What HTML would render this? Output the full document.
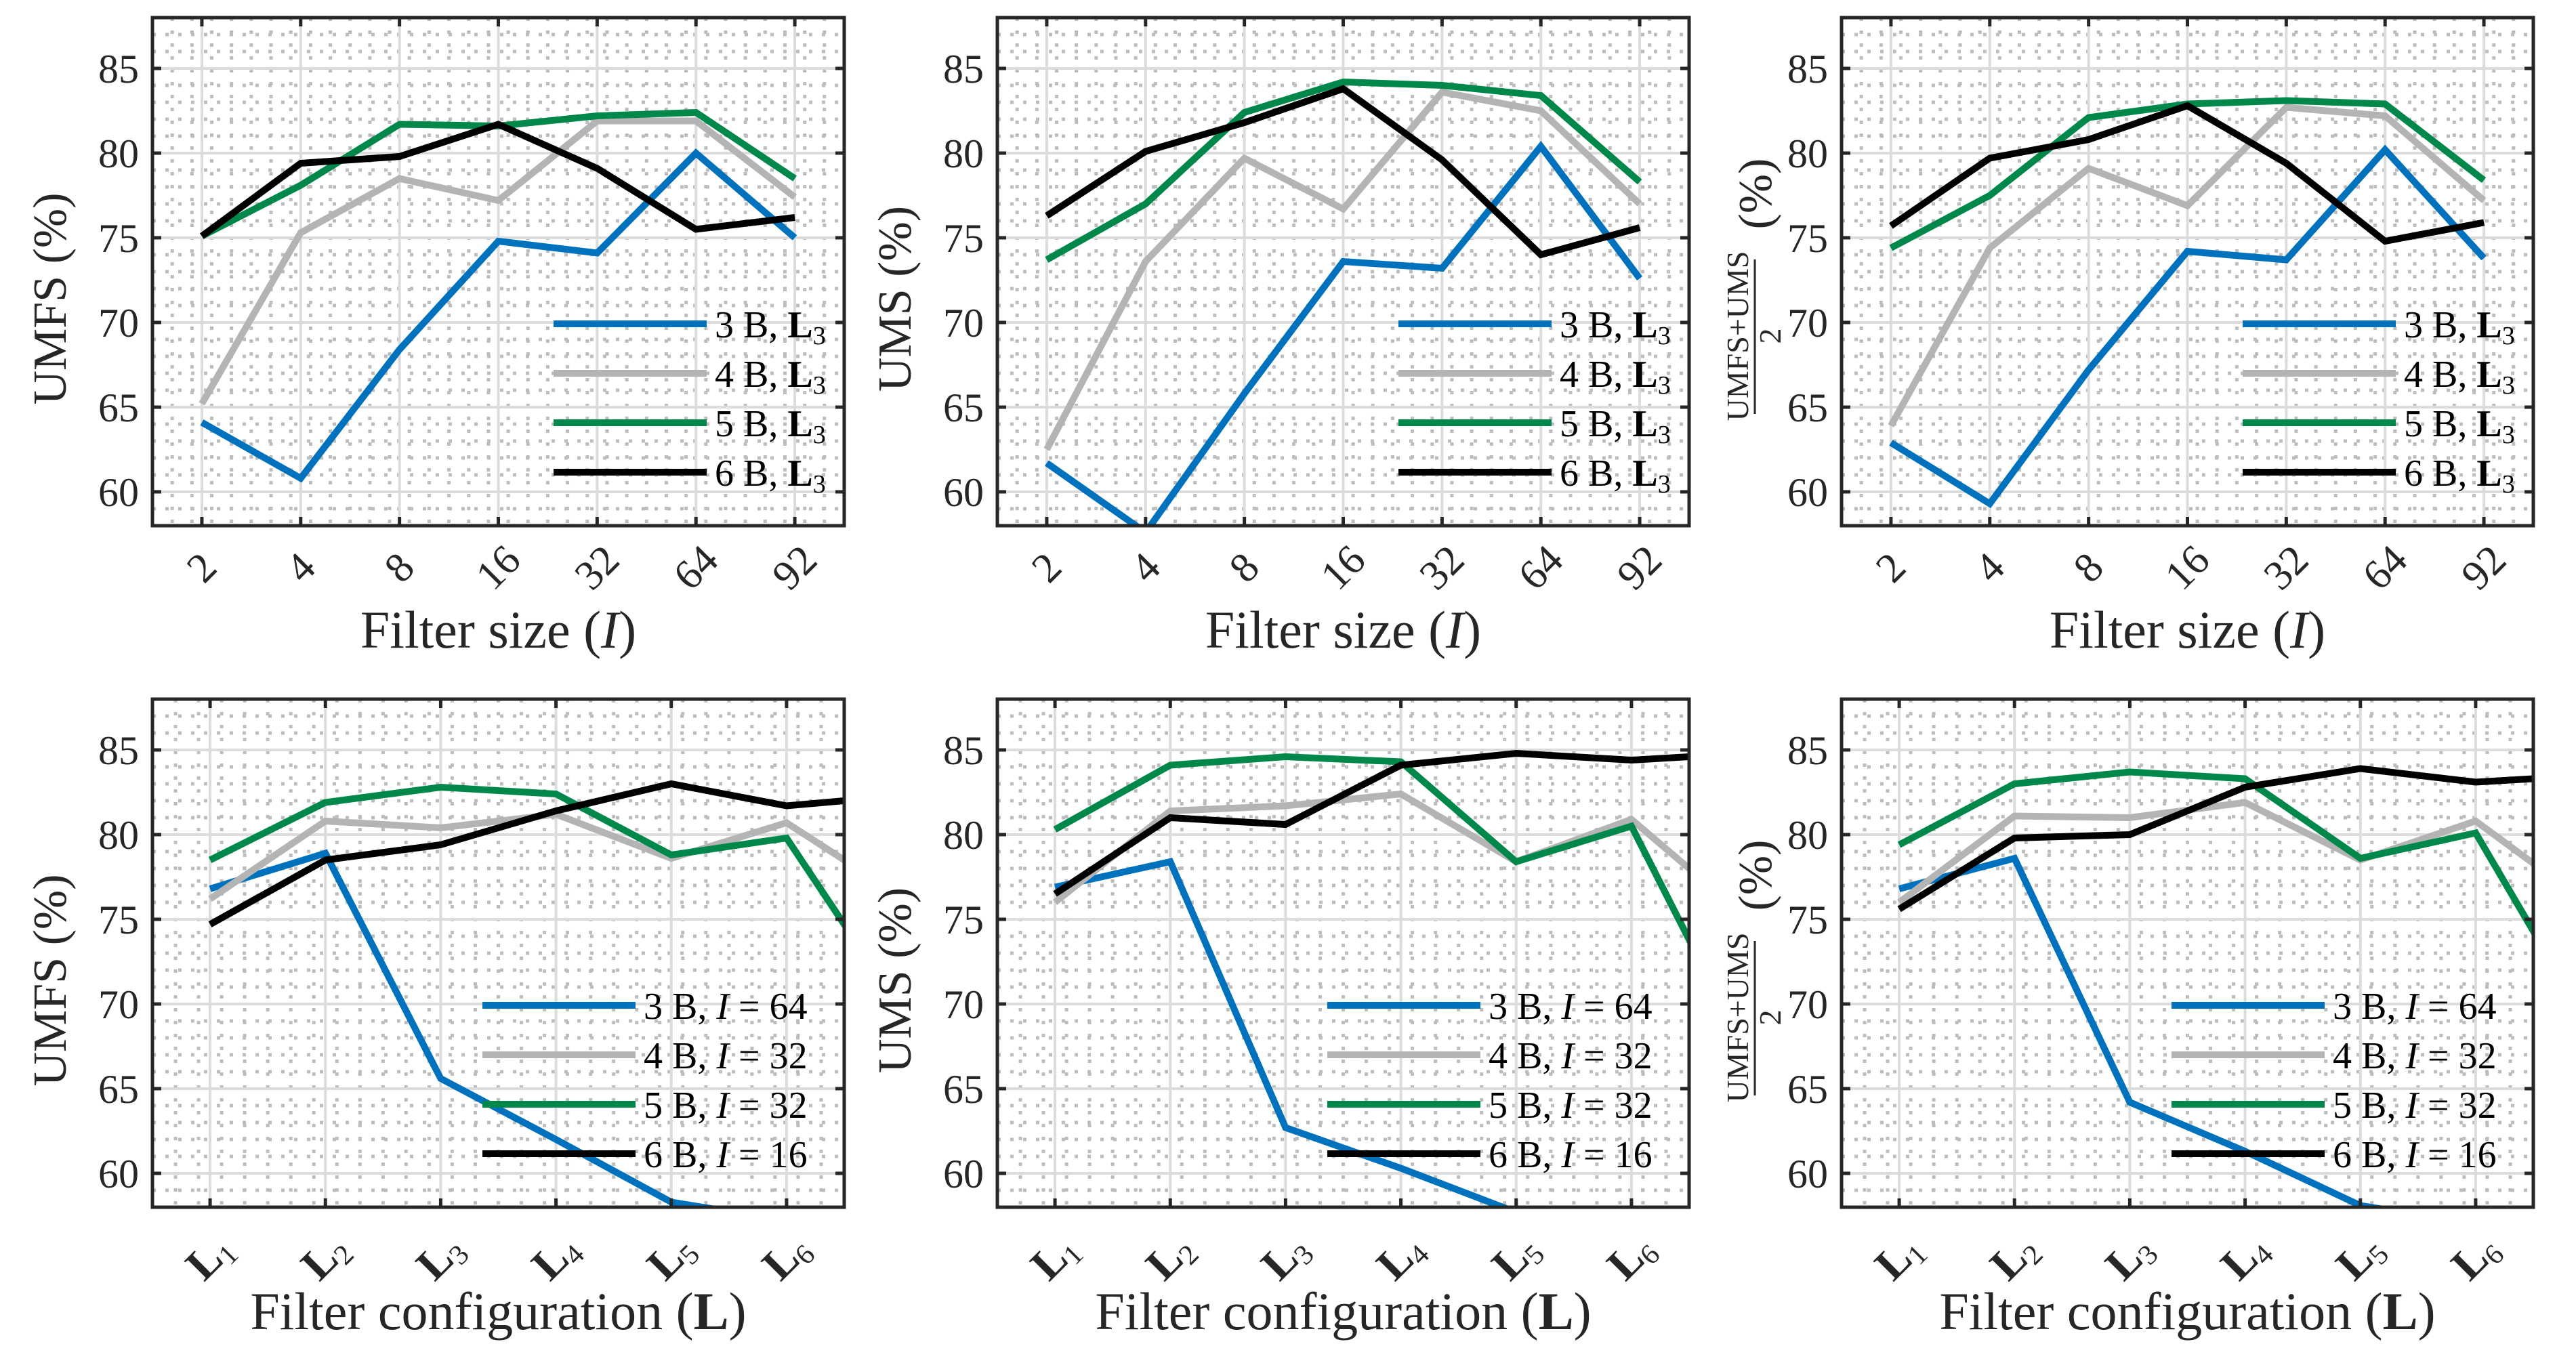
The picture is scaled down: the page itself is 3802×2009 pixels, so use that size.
<!DOCTYPE html>
<html><head><meta charset="utf-8"><style>
html,body{margin:0;padding:0;background:#fff;}
svg{display:block;font-family:"Liberation Serif",serif;}
</style></head><body>
<svg id="fig" width="3802" height="2009" viewBox="0 0 3802 2009" xmlns="http://www.w3.org/2000/svg"></svg>
<script>
// ---- data ----
const sizeCats = ['2','4','8','16','32','64','92'];
const confCats = ['1','2','3','4','5','6'];
const seriesNames = ['3 B','4 B','5 B','6 B'];
const yTicks = [60,65,70,75,80,85];
// top row (filter size), order: blue, gray, green, black
const umfsSize3 = [64.1,60.8,68.4,74.8,74.1,80.0,75.0];
const umfsSize4 = [65.2,75.3,78.5,77.2,81.9,81.9,77.4];
const umfsSize5 = [75.1,78.1,81.7,81.6,82.2,82.4,78.5];
const umfsSize6 = [75.1,79.4,79.8,81.7,79.1,75.5,76.2];
const umsSize3 = [61.7,57.6,65.8,73.6,73.2,80.4,72.6];
const umsSize4 = [62.5,73.6,79.7,76.7,83.6,82.5,77.0];
const umsSize5 = [73.7,77.0,82.4,84.2,84.0,83.4,78.3];
const umsSize6 = [76.3,80.1,81.8,83.8,79.6,74.0,75.6];
const avgSize3 = [62.9,59.3,67.2,74.2,73.7,80.2,73.8];
const avgSize4 = [63.9,74.4,79.1,76.9,82.7,82.2,77.2];
const avgSize5 = [74.4,77.5,82.1,82.9,83.1,82.9,78.4];
const avgSize6 = [75.7,79.7,80.8,82.8,79.4,74.8,75.9];
// bottom row (filter configuration); 7th value lies beyond the axis (clipped)
const umfsConf3 = [76.8,78.9,65.6,62.0,58.3,57.2];
const umfsConf4 = [76.2,80.8,80.4,81.2,78.6,80.7,76.3];
const umfsConf5 = [78.5,81.9,82.8,82.4,78.8,79.8,69.6];
const umfsConf6 = [74.7,78.5,79.4,81.4,83.0,81.7,82.3];
const umsConf3 = [76.9,78.4,62.7,60.3,57.7,56.5];
const umsConf4 = [76.0,81.4,81.7,82.4,78.4,80.9,75.1];
const umsConf5 = [80.3,84.1,84.6,84.3,78.4,80.5,67.1];
const umsConf6 = [76.5,81.0,80.6,84.1,84.8,84.4,84.8];
const avgConf3 = [76.8,78.6,64.2,61.3,58.1,57.0];
const avgConf4 = [76.0,81.1,81.0,81.9,78.5,80.8,75.8];
const avgConf5 = [79.4,83.0,83.7,83.3,78.6,80.1,68.5];
const avgConf6 = [75.6,79.8,80.0,82.8,83.9,83.1,83.5];
const confParams = ['64','32','32','16'];

// ---- layout ----
const NS='http://www.w3.org/2000/svg';
const svg=document.getElementById('fig');
const colors=['#0072BD','#B4B4B4','#00874A','#000000'];
const lefts=[225,1472,2718], tops=[26,1032], W=1021, H=750;
const yMin=58, yMax=88;
function mk(tag,attrs,parent){const e=document.createElementNS(NS,tag);for(const k in attrs)e.setAttribute(k,attrs[k]);(parent||svg).appendChild(e);return e;}

const panels=[
 {row:0,col:0,cats:sizeCats,data:[umfsSize3,umfsSize4,umfsSize5,umfsSize6],ylab:'UMFS'},
 {row:0,col:1,cats:sizeCats,data:[umsSize3,umsSize4,umsSize5,umsSize6],ylab:'UMS'},
 {row:0,col:2,cats:sizeCats,data:[avgSize3,avgSize4,avgSize5,avgSize6],ylab:'AVG'},
 {row:1,col:0,cats:confCats,data:[umfsConf3,umfsConf4,umfsConf5,umfsConf6],ylab:'UMFS'},
 {row:1,col:1,cats:confCats,data:[umsConf3,umsConf4,umsConf5,umsConf6],ylab:'UMS'},
 {row:1,col:2,cats:confCats,data:[avgConf3,avgConf4,avgConf5,avgConf6],ylab:'AVG'}
];

panels.forEach((p,pi)=>{
  const L=lefts[p.col], T=tops[p.row], n=p.cats.length;
  const step=W/n;
  const xs=i=>L+step*(i+0.5);
  const ys=v=>T+H*(yMax-v)/(yMax-yMin);
  const g=mk('g',{});
  
  
  mk('rect',{x:L,y:T,width:W,height:H,fill:'#fff'},g);
  // minor grid
  for(let v=yMin+1;v<yMax;v++){ if(v%5===0) continue;
    const l=mk('line',{x1:L,x2:L+W,y1:ys(v),y2:ys(v),stroke:'#bdbdbd','stroke-width':5,'stroke-dasharray':'5 14'},g);
    
    
  }
  for(let k=0;k<n*5;k++){ const xv=L+step*k/5;
    if(Math.abs(k/5-Math.floor(k/5)-0.5)<1e-6) continue;
    const l=mk('line',{x1:xv,x2:xv,y1:T,y2:T+H,stroke:'#bdbdbd','stroke-width':5,'stroke-dasharray':'5 14'},g);
    
    
  }
  // major grid
  yTicks.forEach(v=>{const l=mk('line',{x1:L,x2:L+W,y1:ys(v),y2:ys(v),stroke:'#dcdcdc','stroke-width':4},g);
    
    });
  p.cats.forEach((c,i)=>{const l=mk('line',{x1:xs(i),x2:xs(i),y1:T,y2:T+H,stroke:'#dcdcdc','stroke-width':4},g);
    
    });
  // clip
  const cp=mk('clipPath',{id:'clip'+pi},g); mk('rect',{x:L,y:T,width:W,height:H},cp);
  // series
  p.data.forEach((arr,si)=>{
    const pts=arr.map((v,i)=>xs(i).toFixed(1)+','+ys(v).toFixed(1)).join(' ');
    const pl=mk('polyline',{points:pts,fill:'none',stroke:colors[si],'stroke-width':10,'stroke-linejoin':'miter','clip-path':'url(#clip'+pi+')'},g);
    
    
  });
  // ticks + frame
  yTicks.forEach(v=>{
    mk('line',{x1:L,x2:L+13,y1:ys(v),y2:ys(v),stroke:'#262626','stroke-width':5},g);
    mk('line',{x1:L+W-13,x2:L+W,y1:ys(v),y2:ys(v),stroke:'#262626','stroke-width':5},g);
    const t=mk('text',{x:L-20,y:ys(v)+21,'text-anchor':'end','font-size':60,fill:'#262626'},g);
    t.textContent=v;
    
    
  });
  p.cats.forEach((c,i)=>{
    mk('line',{x1:xs(i),x2:xs(i),y1:T,y2:T+13,stroke:'#262626','stroke-width':5},g);
    mk('line',{x1:xs(i),x2:xs(i),y1:T+H-13,y2:T+H,stroke:'#262626','stroke-width':5},g);
    const cx=xs(i), cy=T+H+(p.row===0?62:74);
    const t=mk('text',{x:cx,y:cy+20,'text-anchor':'middle','font-size':62,fill:'#262626',transform:'rotate(-45 '+cx+' '+cy+')'},g);
    
    
    if(p.row===0){t.textContent=c;}
    else{const a=mk('tspan',{'font-weight':'bold','font-size':66},t);a.textContent='L';const b=mk('tspan',{'font-size':42,dy:10},t);b.textContent=c;}
  });
  const fr=mk('rect',{x:L,y:T,width:W,height:H,fill:'none',stroke:'#262626','stroke-width':5},g);
  
  
  // legend
  seriesNames.forEach((s,si)=>{
    const ly=T+452+si*73;
    const x1=p.row===0?L+592:L+487, x2=p.row===0?L+818:L+713;
    const ll=mk('line',{x1:x1,x2:x2,y1:ly,y2:ly,stroke:colors[si],'stroke-width':10},g);
    
    
    const t=mk('text',{x:x2+12,y:ly+20,'font-size':56,fill:'#000'},g);
    
    
    const a=mk('tspan',{},t);a.textContent=s+', ';
    if(p.row===0){const b=mk('tspan',{'font-weight':'bold'},t);b.textContent='L';const c=mk('tspan',{'font-size':38,dy:10},t);c.textContent='3';}
    else{const b=mk('tspan',{'font-style':'italic'},t);b.textContent='I';const c=mk('tspan',{},t);c.textContent=' = '+confParams[si];}
  });
  // x label
  const xl=mk('text',{x:L+W/2,y:p.row===0?956:1962,'text-anchor':'middle','font-size':78,fill:'#262626'},g);
  
  
  if(p.row===0){const a=mk('tspan',{},xl);a.textContent='Filter size (';const b=mk('tspan',{'font-style':'italic'},xl);b.textContent='I';const c=mk('tspan',{},xl);c.textContent=')';}
  else{const a=mk('tspan',{},xl);a.textContent='Filter configuration (';const b=mk('tspan',{'font-weight':'bold'},xl);b.textContent='L';const c=mk('tspan',{},xl);c.textContent=')';}
  // y label
  const cy=T+H/2+40;
  if(p.ylab!=='AVG'){
    const cx=L-128;
    const yl=mk('text',{x:cx,y:cy,'text-anchor':'middle','font-size':70,fill:'#262626',transform:'rotate(-90 '+cx+' '+cy+')'},g);
    yl.textContent=p.ylab+' (%)';
    
    
  } else {
    const cx=L-128;
    const yg=mk('g',{transform:'translate('+cx+' '+(T+H/2)+') rotate(-90)'},g);
    
    
    const num=mk('text',{x:-95,y:-10,'text-anchor':'middle','font-size':46,fill:'#262626'},yg);num.textContent='UMFS+UMS';
    mk('line',{x1:-210,x2:18,y1:0,y2:0,stroke:'#262626','stroke-width':3},yg);
    const den=mk('text',{x:-95,y:38,'text-anchor':'middle','font-size':46,fill:'#262626'},yg);den.textContent='2';
    const pc=mk('text',{x:115,y:24,'text-anchor':'middle','font-size':70,fill:'#262626'},yg);pc.textContent='(%)';
  }
});
</script>
</body></html>
